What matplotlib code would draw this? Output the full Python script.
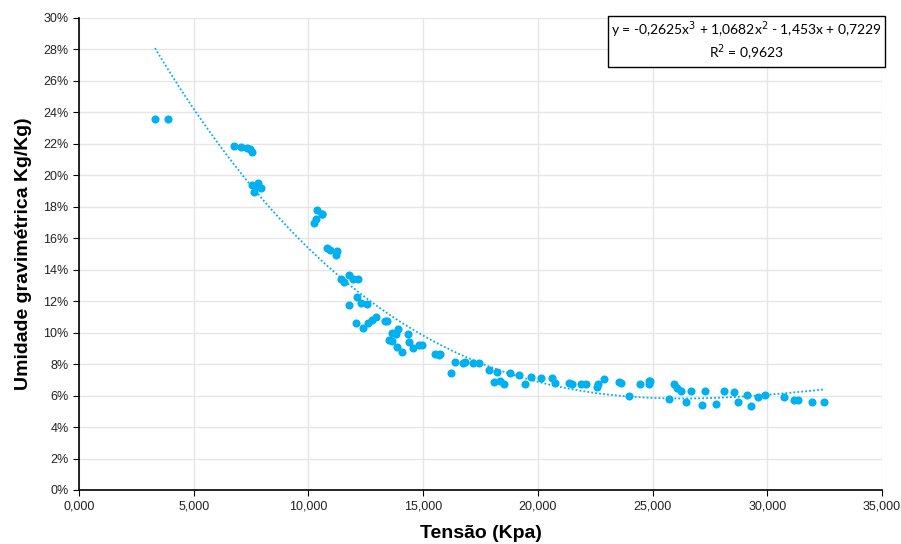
import numpy as np
import matplotlib.pyplot as plt
from matplotlib.ticker import FuncFormatter, MultipleLocator

plt.rcParams['font.family'] = ['Liberation Sans', 'DejaVu Sans']

# tensão (Kpa, em milhares) e umidade gravimétrica (%)
tensao = [3.31, 3.88, 6.75, 7.06, 7.30, 7.45, 7.55, 7.52, 7.81, 7.95, 7.64, 7.71,
          10.39, 10.57, 10.25, 10.35, 10.60, 10.79, 10.93, 11.25, 11.18,
          11.41, 11.54, 11.77, 11.92, 12.17, 12.10, 12.28, 12.57, 11.76,
          12.08, 12.38, 12.60, 12.79, 12.94, 13.33, 13.43, 13.62, 13.92, 13.81,
          13.52, 13.63, 13.84, 14.08, 14.34, 14.40, 14.56, 14.82, 14.97,
          15.50, 15.69, 15.72, 16.38, 16.23, 16.74, 16.81, 17.15, 17.43,
          17.86, 18.22, 18.07, 18.34, 18.52, 18.77, 19.16, 19.43, 19.72,
          20.13, 20.60, 20.73, 21.35, 21.49, 21.86, 22.08, 22.59, 22.62, 22.87,
          23.52, 23.64, 23.95, 24.46, 24.84, 24.83, 24.87,
          25.71, 25.91, 26.07, 26.22, 26.44, 26.68, 27.16, 27.30, 27.77,
          28.09, 28.53, 28.73, 29.11, 29.27, 29.59, 29.91, 30.71, 31.18,
          31.32, 31.96, 32.46]
umidade = [23.59, 23.59, 21.87, 21.80, 21.74, 21.66, 21.50, 19.37, 19.54, 19.18, 18.97, 19.33,
           17.80, 17.53, 16.99, 17.21, 17.55, 15.40, 15.26, 15.22, 14.92,
           13.39, 13.24, 13.67, 13.39, 13.39, 12.25, 11.91, 11.80, 11.74,
           10.64, 10.28, 10.60, 10.81, 11.02, 10.74, 10.74, 10.00, 10.22, 9.92,
           9.54, 9.49, 9.07, 8.77, 9.90, 9.39, 9.01, 9.22, 9.22,
           8.65, 8.58, 8.63, 8.12, 7.42, 8.09, 8.16, 8.05, 8.05,
           7.63, 7.52, 6.85, 6.95, 6.72, 7.46, 7.31, 6.74, 7.20,
           7.10, 7.10, 6.82, 6.78, 6.72, 6.72, 6.72, 6.57, 6.72, 7.04,
           6.85, 6.78, 6.00, 6.72, 6.93, 6.72, 6.95,
           5.77, 6.72, 6.46, 6.31, 5.61, 6.31, 5.38, 6.31, 5.49,
           6.31, 6.21, 5.61, 6.02, 5.36, 5.93, 6.02, 5.93, 5.70,
           5.70, 5.61, 5.61]

x = np.array(tensao)
y = np.array(umidade) / 100

azul = '#00B0F0'

fig = plt.figure(figsize=(9.01, 5.44), dpi=100)
ax = fig.add_axes([0.0877, 0.0993, 0.8913, 0.8677])

ax.scatter(x, y, s=34, color=azul, zorder=3, linewidths=0)

# linha de tendência polinomial (3ª ordem)
coef = np.polyfit(x, y, 3)
xt = np.linspace(x.min(), x.max(), 300)
ax.plot(xt, np.polyval(coef, xt), color=azul, linestyle=(0, (1, 1.2)), linewidth=1.3, zorder=2)

ax.set_xlim(0, 35)
ax.set_ylim(0, 0.30)
ax.xaxis.set_major_locator(MultipleLocator(5))
ax.yaxis.set_major_locator(MultipleLocator(0.02))
ax.xaxis.set_major_formatter(FuncFormatter(lambda v, p: f'{v:.3f}'.replace('.', ',')))
ax.yaxis.set_major_formatter(FuncFormatter(lambda v, p: f'{v*100:.0f}%'))
ax.tick_params(labelsize=9, length=4, color='black', labelcolor='#222222')
ax.grid(True, color='#e6e6e6', linewidth=1)
ax.set_axisbelow(True)
ax.spines['top'].set_visible(False)
ax.spines['right'].set_visible(False)
ax.spines['left'].set_linewidth(1.2)
ax.spines['bottom'].set_linewidth(1.2)

ax.set_xlabel('Tensão (Kpa)', fontsize=14, fontweight='bold', labelpad=9)
ax.set_ylabel('Umidade gravimétrica Kg/Kg)', fontsize=14, fontweight='bold', labelpad=8)

fig.text(0.8285, 0.9237, 'y = -0,2625x$^3$ + 1,0682x$^2$ - 1,453x + 0,7229\nR$^2$ = 0,9623',
         fontsize=10, ha='center', va='center', linespacing=1.2,
         family=['Lato', 'DejaVu Sans'],
         bbox=dict(boxstyle='square,pad=0.22', facecolor='white', edgecolor='black', linewidth=1))

fig.savefig('out.png', dpi=100)
